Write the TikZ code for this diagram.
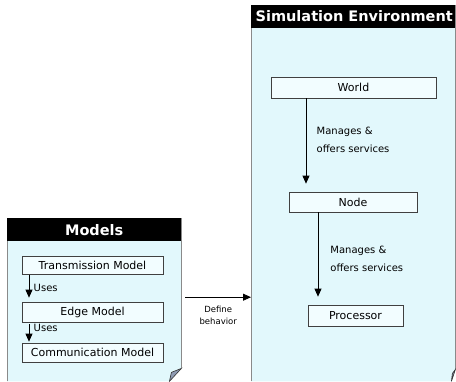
\documentclass[tikz,border=0pt]{standalone}
\usepackage{fontspec}
\setmainfont{DejaVu Sans}
\usetikzlibrary{arrows.meta,calc}
\definecolor{panelfill}{HTML}{E2F8FC}
\definecolor{boxfill}{HTML}{F2FDFF}
\definecolor{foldfill}{HTML}{8E9BB3}
\definecolor{panelline}{HTML}{8A8A8A}
\begin{document}
\begin{tikzpicture}[x=1pt,y=-1pt,
  box/.style={draw=black!75, fill=boxfill, line width=0.7pt, inner sep=0pt, font=\fontsize{11}{13}\selectfont},
  arr/.style={-{Triangle[width=7pt,length=8pt]}, line width=0.8pt},
  lbl/.style={font=\fontsize{10}{18}\selectfont, align=left},
  hdr/.style={text=white, font=\fontsize{14.5}{16}\selectfont\bfseries},
  panelnode/.style={inner sep=0pt, anchor=north west}]
\useasboundingbox (0,0) rectangle (456,381);
\fill[white] (0,0) rectangle (456,381);

% Models panel
\node[panelnode, minimum width=174pt, minimum height=163pt] (models) at (7,218) {};
\fill[panelfill] (models.north west) -- (models.north east) -- ([yshift=13pt]models.south east) -- ([xshift=-12pt]models.south east) -- (models.south west) -- cycle;
\draw[draw=panelline, line width=0.6pt] (models.south west) -- (models.north west) -- (models.north east) -- ([yshift=13pt]models.south east);
\filldraw[fill=foldfill, draw=black!80, line width=0.6pt] ([yshift=13pt]models.south east) -- ([xshift=-10pt,yshift=9pt]models.south east) -- ([xshift=-12pt]models.south east) -- cycle;
\fill[black] (models.north west) rectangle ([yshift=-23pt]models.north east);
\node[hdr] (mhdr) at ($(models.north)+(0,12)$) {Models};

% Simulation panel
\node[panelnode, minimum width=204pt, minimum height=376pt] (sim) at (251,5) {};
\fill[panelfill] (sim.north west) -- (sim.north east) -- ([yshift=12pt]sim.south east) -- ([xshift=-4pt]sim.south east) -- (sim.south west) -- cycle;
\draw[draw=panelline, line width=0.6pt] (sim.south west) -- (sim.north west) -- (sim.north east) -- ([yshift=12pt]sim.south east);
\filldraw[fill=foldfill, draw=black!80, line width=0.6pt] ([yshift=12pt]sim.south east) -- ([xshift=-3pt,yshift=8pt]sim.south east) -- ([xshift=-4pt]sim.south east) -- cycle;
\fill[black] (sim.north west) rectangle ([yshift=-23pt]sim.north east);
\node[hdr] (shdr) at ($(sim.north)+(1,11.5)$) {Simulation Environment};

% Model boxes
\node[box, minimum width=141pt, minimum height=18pt] (trans) at (92.5,265) {Transmission Model};
\node[box, minimum width=141pt, minimum height=20pt] (edge) at (92.5,312) {Edge Model};
\node[box, minimum width=141pt, minimum height=19pt] (comm) at (92.5,352.5) {Communication Model};

% Simulation boxes
\node[box, minimum width=165pt, minimum height=21pt] (world) at (353.5,87.5) {World};
\node[box, minimum width=128pt, minimum height=20pt] (node) at (353,202) {Node};
\node[box, minimum width=95pt, minimum height=21pt] (proc) at (355.5,315.5) {Processor};

% Connectors in Models
\draw[arr, shorten <=0.5pt, shorten >=4pt] ([xshift=-63.5pt]trans.south) -- ([xshift=-63.5pt]trans.south |- edge.north)
  node[pos=0.5, right=1pt, lbl] {Uses};
\draw[arr, shorten <=2pt, shorten >=1pt] ([xshift=-63.5pt]edge.south) -- ([xshift=-63.5pt]edge.south |- comm.north)
  node[pos=0.25, right=1pt, lbl] {Uses};

% Connectors in Simulation
\draw[arr, shorten >=8pt] ([xshift=-47.5pt]world.south) -- ([xshift=-47.5pt]world.south |- node.north)
  node[pos=0.44, right=7pt, lbl] {Manages \&\\offers services};
\draw[arr, shorten >=8pt] ([xshift=-35pt]node.south) -- ([xshift=-35pt]node.south |- proc.north)
  node[pos=0.505, right=8.7pt, lbl] {Manages \&\\offers services};

% Define behavior
\draw[arr] ([shift={(4pt,2.5pt)}]models.east) coordinate (da) -- (da -| sim.west)
  node[midway, below=5pt, align=center, font=\fontsize{8.5}{12}\selectfont] (dlbl) {Define\\behavior};
\end{tikzpicture}
\end{document}
